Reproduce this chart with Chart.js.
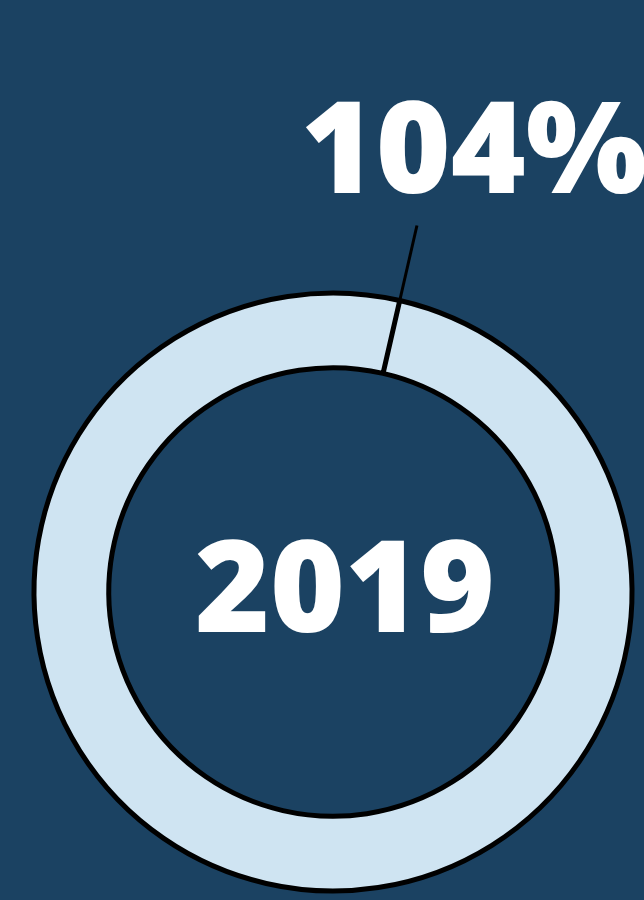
<!DOCTYPE html>
<html>
<head>
<meta charset="utf-8">
<script src="https://cdn.jsdelivr.net/npm/chart.js@4/dist/chart.umd.min.js"></script>
<style>
  html, body { margin: 0; padding: 0; background: #1b4262; }
  #wrap { width: 644px; height: 900px; }
</style>
</head>
<body>
<div id="wrap"><canvas id="ring" width="644" height="900"></canvas></div>
<script>
// data
const years = ["2019"];
const percentValues = [104];
const leaderAngleDeg = 12.9; // where the ring's start marker sits

// leader line + big labels
const labelPlugin = {
    id: "ringLabels",
    afterDraw: (chart) => {
        const { ctx } = chart;
        const arc = chart.getDatasetMeta(0).data[0];
        const a = arc.startAngle;

        // leader line, from the inner edge out past the ring
        ctx.save();
        ctx.strokeStyle = "#000000";
        ctx.lineWidth = 3;
        ctx.beginPath();
        ctx.moveTo(arc.x + Math.cos(a) * arc.innerRadius, arc.y + Math.sin(a) * arc.innerRadius);
        ctx.lineTo(arc.x + Math.cos(a) * 376, arc.y + Math.sin(a) * 376);
        ctx.stroke();

        ctx.fillStyle = "#ffffff";
        ctx.font = "800 128px 'Open Sans', sans-serif";
        ctx.textAlign = "center";
        ctx.textBaseline = "alphabetic";
        ctx.fillText(percentValues[0] + "%", 474, 193);
        ctx.fillText(years[0], 345, 632);
        ctx.restore();
    },
};

new Chart(document.getElementById("ring"), {
    type: "doughnut",
    data: {
        labels: years,
        datasets: [
            {
                data: percentValues,
                backgroundColor: "#cfe4f2",
                borderColor: "#000000",
                borderWidth: 5,
                hoverOffset: 0,
            },
        ],
    },
    options: {
        responsive: false,
        animation: false,
        radius: 299,
        cutout: "75%",
        rotation: leaderAngleDeg,
        layout: { padding: { left: 22, right: 0, top: 284, bottom: 0 } },
        plugins: {
            legend: { display: false },
            tooltip: { enabled: false },
        },
        events: [],
    },
    plugins: [labelPlugin],
});
</script>
</body>
</html>
